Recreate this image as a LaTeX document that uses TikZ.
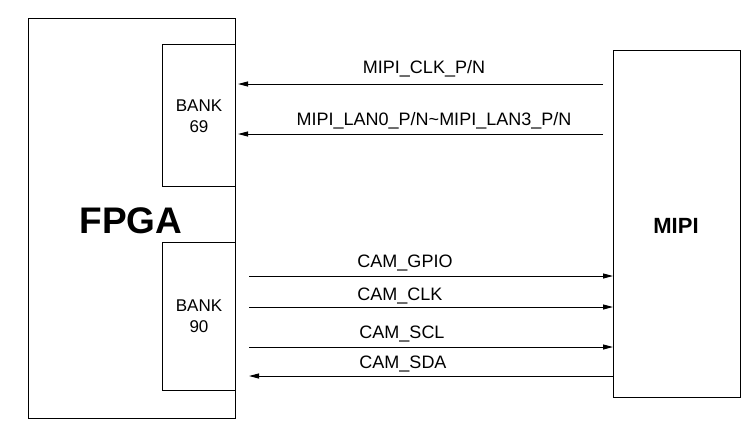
\documentclass[tikz,border=0pt]{standalone}
\usepackage{fontspec}
\setmainfont{Liberation Sans}
\usetikzlibrary{arrows.meta}
\begin{document}
\begin{tikzpicture}[x=1pt,y=-1pt,
  box/.style={draw,line width=0.8pt},
  sig/.style={line width=1pt,-{Triangle[length=10pt,width=5pt]}},
  lbl/.style={font=\fontsize{18}{20}\selectfont,inner sep=0pt}]
\useasboundingbox (0,0) rectangle (755,426);
\draw[box] (28,18) rectangle (235,418);
\draw[box] (162,44) rectangle (235,186);
\draw[box] (162,242) rectangle (235,390);
\draw[box] (613,50) rectangle (740,397);
\node[font=\fontsize{37}{40}\selectfont\bfseries] (fpga) at (131,221) {FPGA};
\node[lbl,align=center,font=\fontsize{17}{20}\selectfont] (b69) at (199,116) {BANK\\[1pt]69};
\node[lbl,align=center,font=\fontsize{17}{20}\selectfont] (b90) at (199,316) {BANK\\[1pt]90};
\node[font=\fontsize{22}{24}\selectfont\bfseries] (mipi) at (676,226) {MIPI};
\coordinate (r1) at (603,84); \coordinate (l1) at (238,84);
\coordinate (r2) at (603,134); \coordinate (l2) at (238,134);
\coordinate (a1) at (249,276); \coordinate (b1) at (613,276);
\coordinate (a2) at (249,307); \coordinate (b2) at (613,307);
\coordinate (a3) at (249,347); \coordinate (b3) at (613,347);
\coordinate (a4) at (249,376); \coordinate (b4) at (613,376);
\draw[sig] (r1) -- (l1);
\draw[sig] (r2) -- (l2);
\draw[sig] (a1) -- (b1);
\draw[sig] (a2) -- (b2);
\draw[sig] (a3) -- (b3);
\draw[sig] (b4) -- (a4);
\node[lbl] (t1) at (424,69) {MIPI\_CLK\_P/N};
\node[lbl] (t2) at (434,121) {MIPI\_LAN0\_P/N\textasciitilde MIPI\_LAN3\_P/N};
\node[lbl] (t3) at (405,263) {CAM\_GPIO};
\node[lbl] (t4) at (400,296) {CAM\_CLK};
\node[lbl] (t5) at (402,334) {CAM\_SCL};
\node[lbl] (t6) at (403,364) {CAM\_SDA};
\end{tikzpicture}
\end{document}
